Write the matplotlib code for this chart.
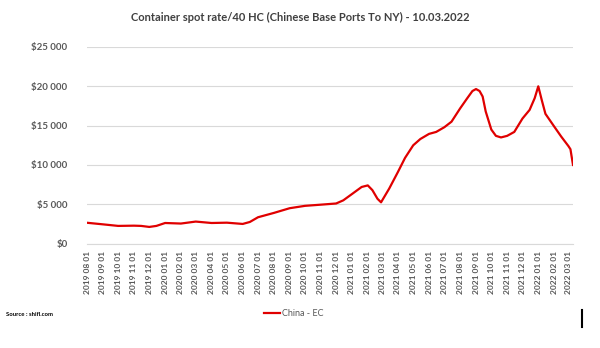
import pandas as pd
import matplotlib
matplotlib.use("Agg")
import matplotlib.pyplot as plt
import matplotlib.dates as mdates
from matplotlib.ticker import FuncFormatter

plt.rcParams['font.family'] = ['Lato', 'DejaVu Sans']

title = 'Container spot rate/40 HC (Chinese Base Ports To NY) - 10.03.2022'
series_name = 'China - EC'
source = 'Source : shifl.com'

dates = [
    '2019-08-01', '2019-09-01', '2019-10-01', '2019-11-01', '2019-11-15',
    '2019-12-01', '2019-12-15', '2020-01-01', '2020-02-01', '2020-03-01',
    '2020-04-01', '2020-05-01', '2020-06-01', '2020-06-15', '2020-07-01',
    '2020-08-01', '2020-09-01', '2020-10-01', '2020-11-01', '2020-12-01',
    '2020-12-15', '2021-01-01', '2021-01-20', '2021-02-01', '2021-02-10',
    '2021-02-20', '2021-02-27', '2021-03-15', '2021-04-01', '2021-04-15',
    '2021-05-01', '2021-05-15', '2021-06-01', '2021-06-15', '2021-07-01',
    '2021-07-15', '2021-08-01', '2021-08-15', '2021-08-25', '2021-09-01',
    '2021-09-08', '2021-09-14', '2021-09-20', '2021-10-01', '2021-10-10',
    '2021-10-20', '2021-11-01', '2021-11-15', '2021-12-01', '2021-12-15',
    '2021-12-25', '2022-01-01', '2022-01-08', '2022-01-15', '2022-02-01',
    '2022-02-15', '2022-03-01', '2022-03-05', '2022-03-10',
]
rates = [
    2650, 2450, 2250, 2280, 2250,
    2120, 2250, 2620, 2550, 2800,
    2620, 2660, 2500, 2750, 3350,
    3900, 4500, 4800, 4950, 5100,
    5500, 6300, 7200, 7400, 6800,
    5700, 5250, 7000, 9100, 10900,
    12500, 13300, 13950, 14200, 14800,
    15500, 17200, 18500, 19400, 19650,
    19400, 18700, 16800, 14500, 13700,
    13500, 13700, 14200, 15900, 17000,
    18500, 20000, 18200, 16500, 14900,
    13600, 12400, 12000, 10000,
]

df = pd.DataFrame({'date': pd.to_datetime(dates), 'rate': rates})

fig = plt.figure(figsize=(6, 3.48), dpi=100)
ax = fig.add_axes([0.145, 0.30, 0.81, 0.565])

ax.plot(df['date'], df['rate'], color='#e00000', lw=1.6, solid_joinstyle='round', label=series_name)

ax.set_xlim(pd.Timestamp('2019-08-01'), pd.Timestamp('2022-03-10'))
ax.set_ylim(0, 25000)
ax.set_yticks(range(0, 25001, 5000))
ax.yaxis.set_major_formatter(FuncFormatter(lambda v, p: '$' + f'{int(v):,}'.replace(',', ' ')))
ax.xaxis.set_major_locator(mdates.MonthLocator())
ax.xaxis.set_major_formatter(mdates.DateFormatter('%Y %m %d'))

ax.grid(axis='y', color='#d9d9d9', lw=0.8)
ax.set_axisbelow(True)
for s in ['top', 'right', 'left']:
    ax.spines[s].set_visible(False)
ax.spines['bottom'].set_color('#d9d9d9')
ax.tick_params(length=0)
ax.tick_params(axis='y', labelsize=7, labelcolor='#595959', pad=14)
ax.tick_params(axis='x', labelsize=6, labelcolor='#595959', rotation=90, pad=5)
for t in ax.get_yticklabels() + ax.get_xticklabels():
    t.set_fontweight('bold')

fig.text(0.5, 0.95, title, ha='center', va='center', fontsize=8, fontweight='bold', color='#404040')
fig.text(0.01, 0.095, source, ha='left', va='center', fontsize=4.3, fontweight='bold', color='black')

fig.legend(loc='center', bbox_to_anchor=(0.49, 0.1), frameon=False, fontsize=6.5,
           handlelength=1.8, handletextpad=0.2, labelcolor='#595959')

fig.add_artist(plt.Line2D([0.97, 0.97], [0.06, 0.11], color='black', lw=1.5, transform=fig.transFigure))

fig.savefig('out.png', dpi=100, facecolor='white')
